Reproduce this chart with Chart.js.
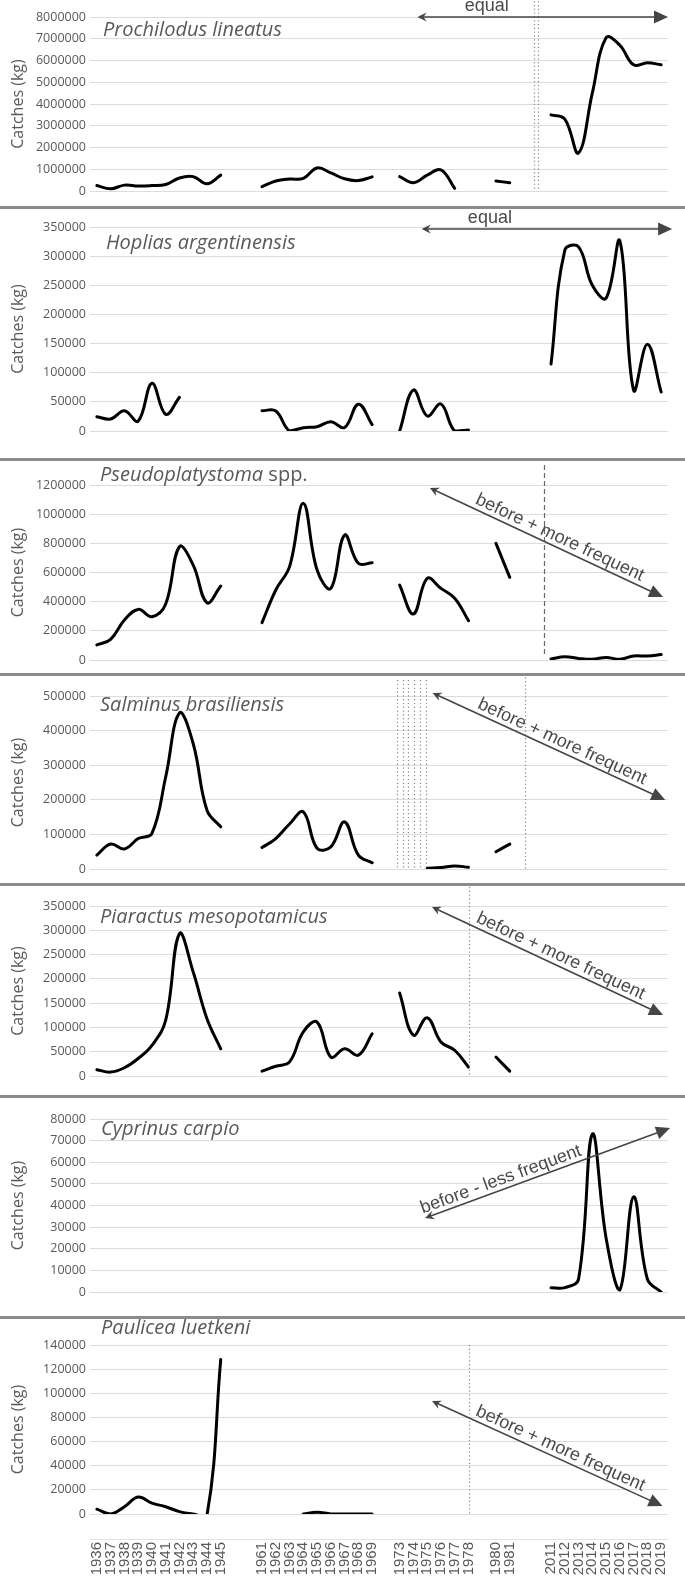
<!DOCTYPE html>
<html>
<head>
<meta charset="utf-8">
<script src="https://cdn.jsdelivr.net/npm/chart.js@4.4.1/dist/chart.umd.min.js"></script>
<style>
 body { margin:0; background:#fff; }
 #page { position:relative; width:685px; height:1583px; overflow:hidden; }
 .panel { position:absolute; left:0; width:685px; }
 .sep { position:absolute; left:0; width:685px; height:3px; background:#8c8c8c; }
</style>
</head>
<body>
<div id="page"></div>
<script>
 // years on the shared x axis ('' = empty slot between the periods)
 var years = ['1936','1937','1938','1939','1940','1941','1942','1943','1944','1945','','',
  '1961','1962','1963','1964','1965','1966','1967','1968','1969','',
  '1973','1974','1975','1976','1977','1978','','1980','1981','','',
  '2011','2012','2013','2014','2015','2016','2017','2018','2019'];
 var _ = null;

 // catches (kg) per species
 var prochilodus = [250000,100000,270000,230000,250000,300000,600000,660000,330000,730000,_,_,
  200000,460000,550000,580000,1060000,830000,560000,480000,650000,_,
  660000,380000,730000,970000,120000,_,_,460000,380000,_,_,
  3500000,3300000,1750000,4500000,7050000,6700000,5800000,5900000,5800000];
 var hoplias = [24500,20600,34800,17000,81800,28600,57800,_,_,_,_,_,
  34800,34300,0,5700,7400,16000,6000,46000,11000,_,
  0,70300,25700,46300,0,1700,_,_,_,_,_,
  115000,310000,316000,250000,228000,326000,70000,149000,67000];
 var pseudoplatystoma = [103000,142000,274000,347000,297000,384000,777000,651000,393000,507000,_,_,
  256000,480000,640000,1074000,617000,491000,857000,663000,667000,_,
  514000,315000,560000,491000,423000,270000,_,800000,567000,_,_,
  7000,23000,11000,5000,18000,5000,27000,27000,37000];
 var salminus = [40000,72000,58000,88000,103000,266000,451000,362000,170000,122000,_,_,
  62000,88000,130000,165000,60000,64000,136000,40000,18000,_,
  _,_,2000,4000,9000,5000,_,50000,72000,_,_,
  _,_,_,_,_,_,_,_,_];
 var piaractus = [13000,8000,17000,36000,63000,115000,293000,214000,118000,56000,_,_,
  10000,20000,29000,91000,111000,39000,56000,43000,87000,_,
  171000,84000,120000,70000,53000,18500,_,39000,10000,_,_,
  _,_,_,_,_,_,_,_,_];
 var cyprinus = [_,_,_,_,_,_,_,_,_,_,_,_,
  _,_,_,_,_,_,_,_,_,_,
  _,_,_,_,_,_,_,_,_,_,_,
  2000,2000,6000,73000,25000,1000,44000,6000,0];
 var paulicea = [4000,0,6000,14000,9000,6000,2000,0,-1000,128000,_,_,
  _,_,_,0,1500,0,0,0,0,_,
  _,_,_,_,_,_,_,_,_,_,_,
  _,_,_,_,_,_,_,_,_];

 var panels = [
  { title:[['Prochilodus lineatus',1]], data:prochilodus, max:8000000, step:1000000, every:1,
    top:0, height:206, padTop:17, padBottom:15, tdx:13, tdy:13,
    notes:[{type:'vline', x:31.75, y1:8900000, y2:0, dash:[1.2,2.6]},
           {type:'vline', x:32.05, y1:8900000, y2:0, dash:[1.2,2.6]},
           {type:'arrow', x1:23.3, y1:8000000, x2:41.5, y2:8000000, text:'equal', along:-56, off:-6}] },
  { title:[['Hoplias argentinensis',1]], data:hoplias, max:350000, step:50000, every:1,
    top:209, height:250, padTop:18, padBottom:28, tdx:16, tdy:16,
    notes:[{type:'arrow', x1:23.6, y1:346600, x2:41.8, y2:346600, text:'equal', along:-57, off:-6}] },
  { title:[['Pseudoplatystoma',1],[' spp.',0]], data:pseudoplatystoma, max:1200000, step:200000, every:1,
    top:461, height:213, padTop:24, padBottom:14, tdx:10, tdy:-10,
    notes:[{type:'vline', x:32.5, y1:1337000, y2:34000, dash:[5,3], color:'#666'},
           {type:'arrow', x1:24.2, y1:1179400, x2:41.14, y2:432000, text:'before + more frequent', along:10, off:-5}] },
  { title:[['Salminus brasiliensis',1]], data:salminus, max:500000, step:50000, every:2,
    top:676, height:208, padTop:20, padBottom:15, tdx:10, tdy:9,
    notes:[{type:'dots', x1:21.8, x2:23.9, n:6, y1:546000, y2:0},
           {type:'vline', x:31.1, y1:620000, y2:0, dash:[1.2,2.6]},
           {type:'arrow', x1:24.4, y1:508700, x2:41.3, y2:199400, text:'before + more frequent', along:10, off:-5}] },
  { title:[['Piaractus mesopotamicus',1]], data:piaractus, max:350000, step:50000, every:1,
    top:886, height:210, padTop:20, padBottom:20, tdx:10, tdy:11,
    notes:[{type:'vline', x:27.05, y1:389000, y2:0, dash:[1.2,2.6]},
           {type:'arrow', x1:24.35, y1:348000, x2:41.14, y2:125600, text:'before + more frequent', along:10, off:-5}] },
  { title:[['Cyprinus carpio',1]], data:cyprinus, max:80000, step:10000, every:1,
    top:1098, height:219, padTop:21, padBottom:25, tdx:11, tdy:10,
    notes:[{type:'arrow', x1:23.85, y1:34200, x2:41.65, y2:75800, text:'before - less frequent', along:-46, off:-5}] },
  { title:[['Paulicea luetkeni',1]], data:paulicea, max:140000, step:20000, every:1,
    top:1319, height:264, padTop:26, padBottom:0, tdx:11, tdy:-17, xaxis:true,
    notes:[{type:'vline', x:27.05, y1:140000, y2:0, dash:[1.2,2.6]},
           {type:'arrow', x1:24.35, y1:93600, x2:41.1, y2:6600, text:'before + more frequent', along:10, off:-5}] }
 ];

 function head(ctx, tx, ty, ang, len, half, notch) {
  ctx.beginPath();
  ctx.moveTo(tx, ty);
  ctx.lineTo(tx - len*Math.cos(ang) - half*Math.sin(ang), ty - len*Math.sin(ang) + half*Math.cos(ang));
  ctx.lineTo(tx - (len-notch)*Math.cos(ang), ty - (len-notch)*Math.sin(ang));
  ctx.lineTo(tx - len*Math.cos(ang) + half*Math.sin(ang), ty - len*Math.sin(ang) - half*Math.cos(ang));
  ctx.closePath();
  ctx.fill();
 }

 function drawNotes(chart, p) {
  var ctx = chart.ctx, xs = chart.scales.x, ys = chart.scales.y, area = chart.chartArea;
  var X = function(v){ return xs.getPixelForValue(v); };
  var Y = function(v){ return ys.getPixelForValue(v); };
  ctx.save();
  // faint line above the year labels
  if (p.xaxis) {
   ctx.strokeStyle = '#e2e2e2';
   ctx.lineWidth = 1;
   ctx.beginPath();
   ctx.moveTo(area.left, area.bottom + 25.5);
   ctx.lineTo(area.right, area.bottom + 25.5);
   ctx.stroke();
  }
  // species name
  ctx.fillStyle = '#595959';
  ctx.textBaseline = 'middle';
  ctx.textAlign = 'left';
  var tx = area.left + p.tdx, ty = area.top + p.tdy;
  p.title.forEach(function(part) {
   ctx.font = (part[1] ? 'italic ' : '') + '20px "Open Sans"';
   ctx.fillText(part[0], tx, ty);
   tx += ctx.measureText(part[0]).width;
  });
  p.notes.forEach(function(n) {
   if (n.type === 'vline') {
    ctx.strokeStyle = n.color || '#8a8a8a';
    ctx.lineWidth = 1.2;
    ctx.setLineDash(n.dash);
    ctx.beginPath();
    ctx.moveTo(Math.round(X(n.x)) + 0.5, Y(n.y1));
    ctx.lineTo(Math.round(X(n.x)) + 0.5, Y(n.y2));
    ctx.stroke();
    ctx.setLineDash([]);
   } else if (n.type === 'dots') {
    ctx.strokeStyle = '#8a8a8a';
    ctx.lineWidth = 1.2;
    ctx.setLineDash([1.2, 2.6]);
    for (var i = 0; i < n.n; i++) {
     var xx = Math.round(X(n.x1 + (n.x2 - n.x1) * i / (n.n - 1))) + 0.5;
     ctx.beginPath();
     ctx.moveTo(xx, Y(n.y1));
     ctx.lineTo(xx, Y(n.y2));
     ctx.stroke();
    }
    ctx.setLineDash([]);
   } else if (n.type === 'arrow') {
    var ax = X(n.x1), ay = Y(n.y1), bx = X(n.x2), by = Y(n.y2);
    var ang = Math.atan2(by - ay, bx - ax);
    ctx.strokeStyle = '#454545';
    ctx.fillStyle = '#454545';
    ctx.lineWidth = 1.6;
    ctx.beginPath();
    ctx.moveTo(ax + 3*Math.cos(ang), ay + 3*Math.sin(ang));
    ctx.lineTo(bx - 10*Math.cos(ang), by - 10*Math.sin(ang));
    ctx.stroke();
    head(ctx, bx, by, ang, 14, 6.5, 0);
    head(ctx, ax, ay, ang + Math.PI, 9, 4.5, 3);
    // label along the arrow
    var mx = (ax + bx)/2 + n.along*Math.cos(ang), my = (ay + by)/2 + n.along*Math.sin(ang);
    ctx.translate(mx, my);
    ctx.rotate(ang);
    ctx.font = '18px "Liberation Sans"';
    ctx.textAlign = 'center';
    ctx.textBaseline = 'alphabetic';
    ctx.fillStyle = '#4a4a4a';
    ctx.fillText(n.text, 0, n.off);
    ctx.setTransform(1, 0, 0, 1, 0, 0);
   }
  });
  ctx.restore();
 }

 var page = document.getElementById('page');
 panels.forEach(function(p, k) {
  var div = document.createElement('div');
  div.className = 'panel';
  div.style.top = p.top + 'px';
  div.style.height = p.height + 'px';
  var cv = document.createElement('canvas');
  div.appendChild(cv);
  page.appendChild(div);
  if (k > 0) {
   var s = document.createElement('div');
   s.className = 'sep';
   s.style.top = (p.top - 3) + 'px';
   page.appendChild(s);
  }
  new Chart(cv, {
   type: 'line',
   data: {
    labels: years,
    datasets: [{ data: p.data, borderColor: '#000', borderWidth: 3, tension: 0.4,
      pointRadius: 0, spanGaps: false, fill: false, borderCapStyle: 'round' }]
   },
   options: {
    responsive: true,
    maintainAspectRatio: false,
    animation: false,
    devicePixelRatio: 1,
    layout: { padding: { left: 9, right: 17, top: p.padTop, bottom: p.padBottom } },
    plugins: { legend: { display: false }, tooltip: { enabled: false } },
    scales: {
     x: {
      display: !!p.xaxis,
      offset: true,
      grid: { display: false, drawTicks: false },
      border: { display: false },
      ticks: { autoSkip: false, minRotation: 90, maxRotation: 90, padding: 28,
        color: '#595959', font: { family: 'Liberation Sans', size: 15 } },
      afterFit: function(scale) {
       scale.paddingLeft = 0; scale.paddingRight = 0;
       if (p.xaxis) scale.height = 69;
      }
     },
     y: {
      min: 0, max: p.max,
      grid: { color: '#dcdcdc', lineWidth: 1, drawTicks: false },
      border: { display: false },
      ticks: { stepSize: p.step, padding: 4, color: '#595959', font: { family: 'Open Sans', size: 12.5 },
        callback: function(v) { return (v / p.step) % p.every === 0 ? String(v) : ''; } },
      title: { display: true, text: 'Catches (kg)', color: '#595959', padding: 0,
        font: { family: 'Open Sans', size: 16 } },
      afterFit: function(scale) { scale.width = 81; scale.paddingTop = 0; scale.paddingBottom = 0; }
     }
    }
   },
   plugins: [{ id: 'notes' + k, afterDraw: function(chart) { drawNotes(chart, p); } }]
  });
 });
</script>
</body>
</html>
